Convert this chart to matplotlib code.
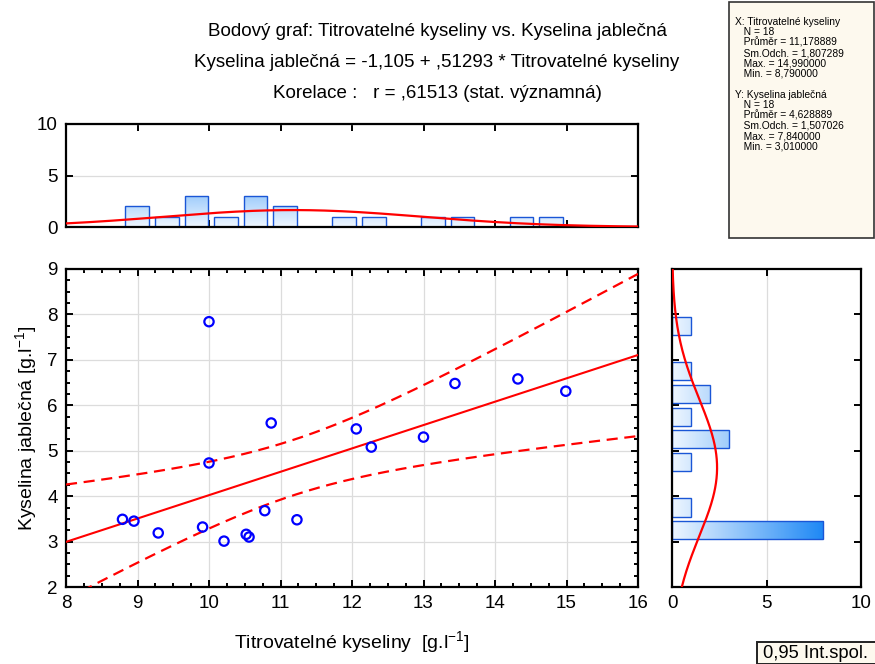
# bodovy graf s histogramy
import numpy as np
import matplotlib
matplotlib.use('Agg')
import matplotlib.pyplot as plt
from matplotlib.colors import LinearSegmentedColormap
from matplotlib.ticker import MultipleLocator

plt.rcParams['font.family'] = ['Liberation Sans', 'DejaVu Sans']
plt.rcParams['mathtext.default'] = 'regular'

# Titrovatelne kyseliny (x) a Kyselina jablecna (y)
tk = np.array([8.79, 8.95, 9.29, 9.91, 10.00, 10.00, 10.21, 10.52, 10.56,
               10.78, 10.87, 11.23, 12.06, 12.27, 13.00, 13.44, 14.32, 14.99])
kj = np.array([3.49, 3.45, 3.19, 3.32, 7.84, 4.73, 3.01, 3.16, 3.10,
               3.68, 5.61, 3.48, 5.48, 5.08, 5.30, 6.48, 6.58, 6.31])
y_bins = np.arange(3.0, 8.5, 0.5)

title_lines = ["Bodový graf: Titrovatelné kyseliny vs. Kyselina jablečná",
               "Kyselina jablečná = -1,105 + ,51293 * Titrovatelné kyseliny",
               "Korelace :   r = ,61513 (stat. významná)"]
stats_text = ["X: Titrovatelné kyseliny", "   N = 18", "   Průměr = 11,178889",
              "   Sm.Odch. = 1,807289", "   Max. = 14,990000", "   Min. = 8,790000", "",
              "Y: Kyselina jablečná", "   N = 18", "   Průměr = 4,628889",
              "   Sm.Odch. = 1,507026", "   Max. = 7,840000", "   Min. = 3,010000"]

W, H = 875, 664
fig = plt.figure(figsize=(W / 100, H / 100), dpi=100)

def box(l, t, r, b):
    return [l / W, 1 - b / H, (r - l) / W, (b - t) / H]

ax = fig.add_axes(box(66, 269, 638, 587))
axt = fig.add_axes(box(66, 124, 638, 227))
axr = fig.add_axes(box(672, 269, 861, 587))

cmap = LinearSegmentedColormap.from_list('g', ['#eef6ff', '#1e88f5'])
edge = '#1a56d6'
grid_c = '#dcdcdc'

def grad_bars(a, bars, horizontal):
    for b in bars:
        x0, y0, w, h = b.get_x(), b.get_y(), b.get_width(), b.get_height()
        g = np.linspace(0, 10, 256)
        if horizontal:
            im = a.imshow(g[None, :], cmap=cmap, vmin=0, vmax=8, aspect='auto',
                          extent=[0, 10, y0, y0 + h], origin='lower', zorder=1)
        else:
            im = a.imshow(g[:, None], cmap=cmap, vmin=0, vmax=8, aspect='auto',
                          extent=[x0, x0 + w, 0, 10], origin='lower', zorder=1)
        im.set_clip_path(b)

def style(a):
    a.set_axisbelow(True)
    for s in a.spines.values():
        s.set_linewidth(1.6)
    a.tick_params(which='both', direction='in', top=True, right=True,
                  labelsize=13.5, width=1.4, pad=6)
    a.tick_params(which='major', length=5)
    a.tick_params(which='minor', length=3)

# hlavni graf
n = len(tk)
b1, b0 = np.polyfit(tk, kj, 1)
xx = np.linspace(8, 16, 200)
yy = b0 + b1 * xx
res = kj - (b0 + b1 * tk)
s = np.sqrt(np.sum(res ** 2) / (n - 2))
sxx = np.sum((tk - tk.mean()) ** 2)
tval = 2.1199
ci = tval * s * np.sqrt(1 / n + (xx - tk.mean()) ** 2 / sxx)

ax.grid(True, color=grid_c, lw=0.9)
ax.plot(xx, yy, color='red', lw=1.5, zorder=3)
ax.plot(xx, yy + ci, color='red', lw=1.6, ls=(0, (5, 3)), zorder=3)
ax.plot(xx, yy - ci, color='red', lw=1.6, ls=(0, (5, 3)), zorder=3)
ax.scatter(tk, kj, s=45, facecolors='none', edgecolors='#0000ff', linewidths=1.6, zorder=4)
ax.set_xlim(8, 16)
ax.set_ylim(2, 9)
ax.xaxis.set_major_locator(MultipleLocator(1))
ax.xaxis.set_minor_locator(MultipleLocator(0.25))
ax.yaxis.set_major_locator(MultipleLocator(1))
ax.yaxis.set_minor_locator(MultipleLocator(0.25))
style(ax)
ax.set_xlabel('Titrovatelné kyseliny  [g.l$^{-1}$]', fontsize=14, labelpad=12)
ax.set_ylabel('Kyselina jablečná [g.l$^{-1}$]', fontsize=14, labelpad=6)

# horni histogram
x_edges = np.linspace(tk.min(), tk.max(), 16)
cnt, _ = np.histogram(tk, bins=x_edges)
bw = x_edges[1] - x_edges[0]
ctr = (x_edges[:-1] + x_edges[1:]) / 2
keep = cnt > 0
axt.grid(True, axis='y', color=grid_c, lw=0.9)
bars = axt.bar(ctr[keep], cnt[keep], width=0.8 * bw, facecolor='none',
               edgecolor=edge, lw=1.0, zorder=2)
grad_bars(axt, bars, False)
axt.plot(xx, n * bw * np.exp(-0.5 * ((xx - tk.mean()) / tk.std(ddof=1)) ** 2)
         / (tk.std(ddof=1) * np.sqrt(2 * np.pi)), color='red', lw=1.6, zorder=3)
axt.set_xlim(8, 16)
axt.set_ylim(0, 10)
axt.xaxis.set_major_locator(MultipleLocator(1))
axt.set_yticks([0, 5, 10])
style(axt)
axt.tick_params(axis='x', labelbottom=False)

# pravy histogram
cnt_y, _ = np.histogram(kj, bins=y_bins)
bwy = y_bins[1] - y_bins[0]
ctr_y = (y_bins[:-1] + y_bins[1:]) / 2
keep = cnt_y > 0
axr.grid(True, axis='x', color=grid_c, lw=0.9)
bars = axr.barh(ctr_y[keep], cnt_y[keep], height=0.8 * bwy, facecolor='none',
                edgecolor=edge, lw=1.0, zorder=2)
grad_bars(axr, bars, True)
yv = np.linspace(2, 9, 200)
axr.plot(n * bwy * np.exp(-0.5 * ((yv - kj.mean()) / kj.std(ddof=1)) ** 2)
         / (kj.std(ddof=1) * np.sqrt(2 * np.pi)), yv, color='red', lw=1.6, zorder=3)
axr.set_xlim(0, 10)
axr.set_ylim(2, 9)
axr.set_xticks([0, 5, 10])
axr.yaxis.set_major_locator(MultipleLocator(1))
style(axr)
axr.tick_params(axis='y', labelleft=False)

# titulky
for i, t in enumerate(title_lines):
    fig.text(437 / W, 1 - (32 + 30.5 * i) / H, t, ha='center', va='center', fontsize=13.5)

# statistiky
fig.patches.append(plt.Rectangle((729 / W, 1 - 238 / H), 145 / W, 236 / H,
                                 transform=fig.transFigure, facecolor='#fdf9ee',
                                 edgecolor='#333333', lw=1.2))
for i, t in enumerate(stats_text):
    fig.text(735 / W, 1 - (22 + 10.4 * i) / H, t, ha='left', va='center', fontsize=7.4)

# legenda
fig.patches.append(plt.Rectangle((757 / W, 1 - 664 / H), 125 / W, 22 / H,
                                 transform=fig.transFigure, facecolor='#fdf9ee',
                                 edgecolor='#222222', lw=1.4))
fig.text(763 / W, 1 - 653 / H, '0,95 Int.spol.', ha='left', va='center', fontsize=13.2)

fig.savefig('out.png', dpi=100)
